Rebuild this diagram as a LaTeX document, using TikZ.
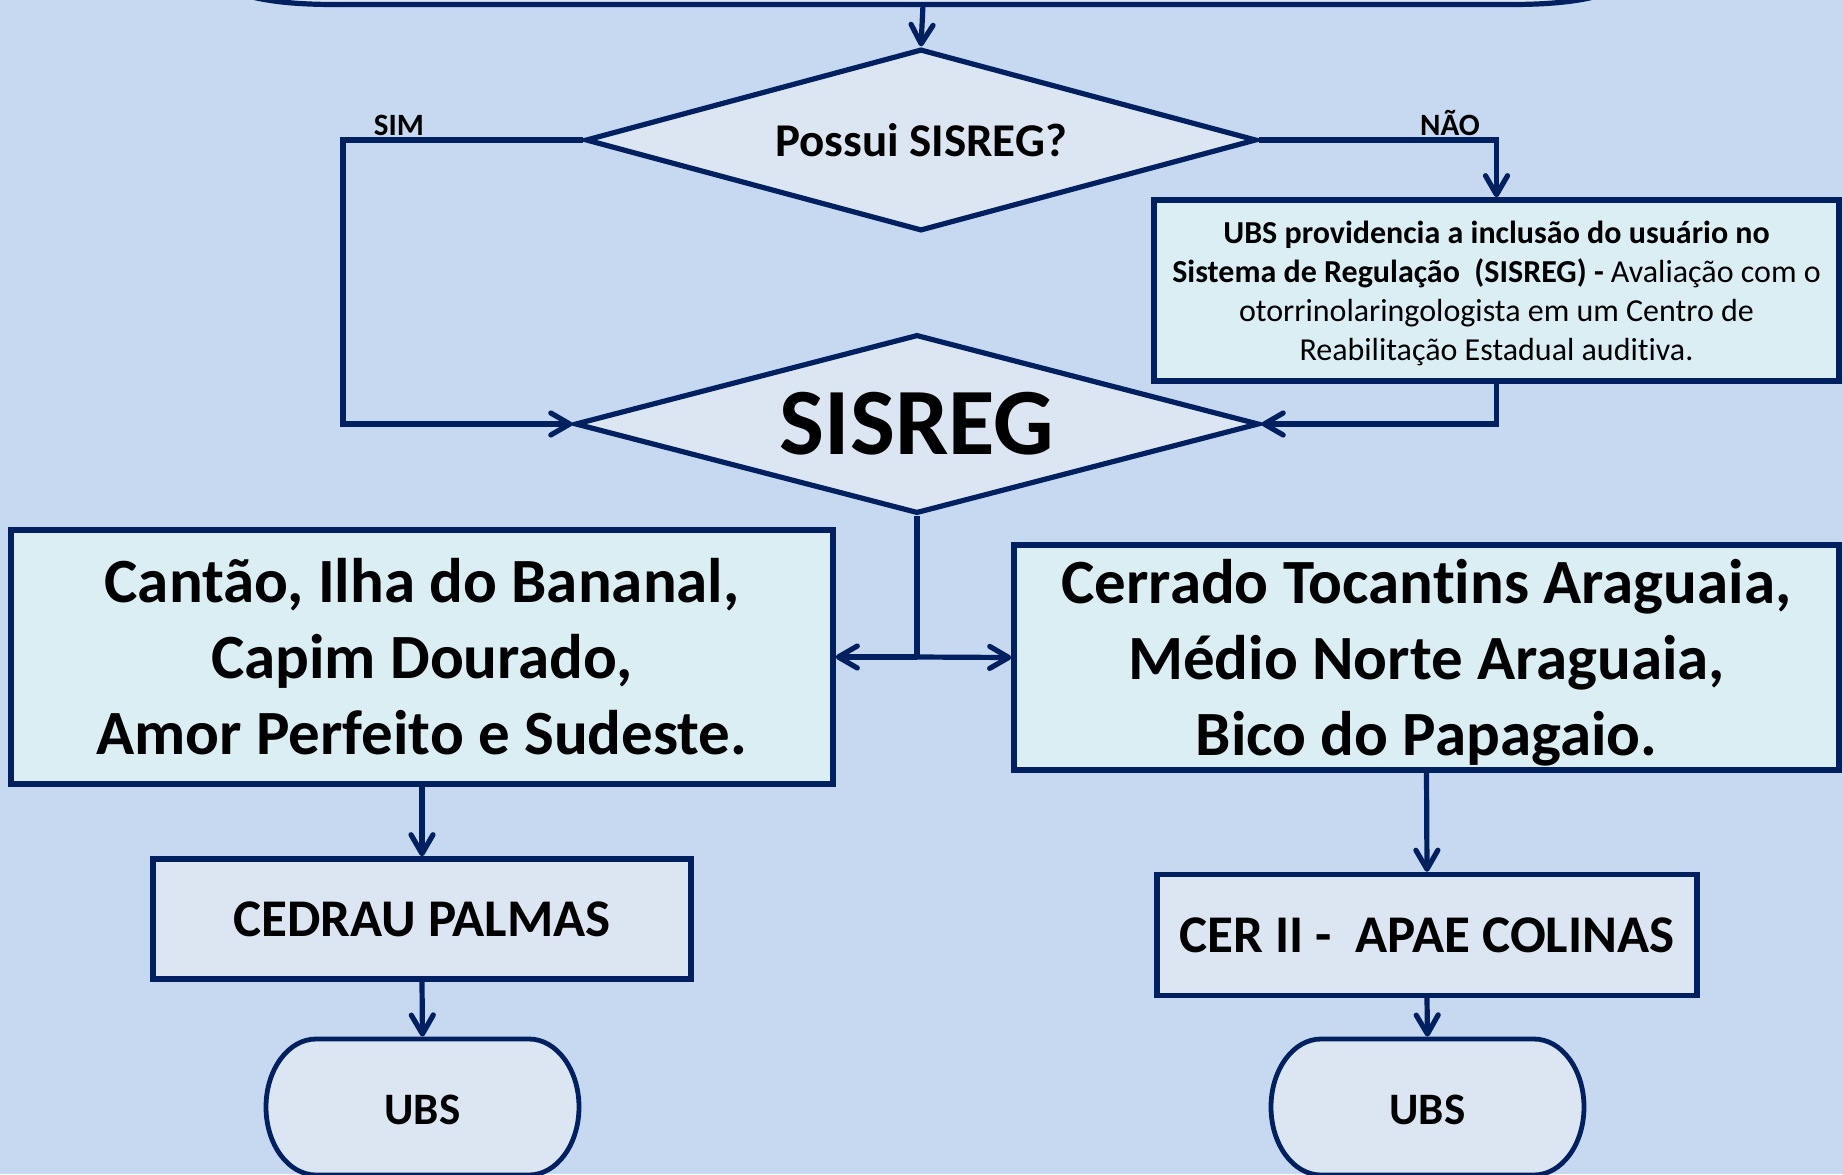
\documentclass[tikz,border=0pt]{standalone}
\usepackage{fontspec}
\setmainfont{Carlito}[Ligatures={NoCommon}]
\usetikzlibrary{shapes.geometric,arrows.meta,calc}
\definecolor{bg}{HTML}{C6D9F1}
\definecolor{navy}{HTML}{002060}
\definecolor{dfill}{HTML}{DCE6F2}
\definecolor{cfill}{HTML}{DBEEF4}
\pgfdeclarelayer{bgl}
\pgfsetlayers{bgl,main}
\begin{document}
\begin{tikzpicture}[x=0.5pt,y=-0.5pt,
  box/.style={draw=navy,line width=2.7pt,rectangle,inner sep=0pt,align=center,text=black},
  dia/.style={draw=navy,fill=dfill,line width=2.6pt,diamond,shape aspect=3.8,inner sep=0pt,text=black},
  conn/.style={draw=navy,line width=2.6pt,-{Straight Barb[length=9.5pt,width=11pt,round]}},
  plainline/.style={draw=navy,line width=2.6pt},
  term/.style={draw=navy,fill=dfill,line width=2.4pt},
  termnode/.style={inner sep=0pt,outer sep=0pt,minimum width=156.5pt,minimum height=68pt,font=\bfseries\fontsize{22.5}{27}\selectfont},
  lbl/.style={font=\bfseries\fontsize{15.5}{18}\selectfont,inner sep=0pt,anchor=base}
]
\begin{pgfonlayer}{bgl}
\fill[bg] (0,0) rectangle (1843,1174);
\end{pgfonlayer}
\useasboundingbox (0,0) rectangle (1843,1174);

% top (cut off) terminator
\node[inner sep=0pt,minimum width=685pt,minimum height=60pt] (top) at (923,-55.5) {};
\fill[dfill] (236,-8) .. controls (262,2) and (300,4.5) .. (335,4.5) -- (1511,4.5) .. controls (1546,4.5) and (1584,2) .. (1610,-8) -- cycle;
\draw[plainline] (236,-8) .. controls (262,2) and (300,4.5) .. (335,4.5) -- (1511,4.5) .. controls (1546,4.5) and (1584,2) .. (1610,-8);

% decisions
\node[dia,minimum width=335.5pt,minimum height=91pt,font=\bfseries\fontsize{23.5}{28}\selectfont] (d1) at (921,140) {Possui SISREG?};
\node[dia,minimum width=342pt,minimum height=89.5pt,font=\bfseries\fontsize{47.5}{56}\selectfont] (d2) at (917,424) {SISREG};

% boxes
\node[box,fill=cfill,minimum width=342.5pt,minimum height=90.5pt,font=\fontsize{16}{19.5}\selectfont] (reg) at (1496.5,290.5)
 {\textbf{UBS providencia a inclusão do usuário no}\\ \textbf{Sistema de Regulação\ \ (SISREG) -} Avaliação com o\\ otorrinolaringologista em um Centro de\\ \smash{Reabilitação Estadual auditiva.}};

\node[box,fill=cfill,minimum width=411pt,minimum height=127pt,font=\bfseries\fontsize{31.5}{38}\selectfont] (b1) at (422,657)
 {Cantão, Ilha do Bananal,\\ Capim Dourado,\\ Amor Perfeito e Sudeste.};
\node[box,fill=cfill,minimum width=412.5pt,minimum height=112.5pt,font=\bfseries\fontsize{31.5}{38}\selectfont] (b2) at (1426.5,657.5)
 {Cerrado Tocantins Araguaia,\\ Médio Norte Araguaia,\\ \smash{Bico do Papagaio.}};

\node[box,fill=dfill,minimum width=269pt,minimum height=60pt,font=\bfseries\fontsize{26.5}{32}\selectfont] (ced) at (422,919) {CEDRAU PALMAS};
\node[box,fill=dfill,minimum width=270pt,minimum height=60.5pt,font=\bfseries\fontsize{26.5}{32}\selectfont] (cer) at (1427,935) {CER II -\ \ APAE COLINAS};

% terminators
\node[termnode] (u1) at (422.5,1107) {\raisebox{-1.5pt}[\height][\depth]{UBS}};
\node[termnode] (u2) at (1427.5,1107) {\raisebox{-1.5pt}[\height][\depth]{UBS}};
\begin{pgfonlayer}{bgl}
\foreach \u in {u1,u2}{
\draw[term] ([xshift=25pt]\u.north west) -- ([xshift=-25pt]\u.north east)
  arc[start angle=90,end angle=-90,x radius=25pt,y radius=34pt]
  -- ([xshift=25pt]\u.south west)
  arc[start angle=270,end angle=90,x radius=25pt,y radius=34pt] -- cycle;
}
\end{pgfonlayer}

% labels
\node[lbl] (sim) at (399,135) {SIM};
\node[lbl] (nao) at (1450,135) {NÃO};

% connectors
\coordinate (simcorner) at (343,140);
\coordinate (split) at (d2.south |- b1.east);
\draw[conn] (top.south) -- (d1.north);
\draw[conn] (d1.west) -- (simcorner) |- (d2.west);
\draw[conn] (d1.east) -| (reg.north);
\draw[conn] (reg.south) |- (d2.east);
\draw[plainline] (d2.south) -- (split);
\draw[conn] (split) -- (b1.east);
\draw[conn] (split) -- (b2.west);
\draw[conn] (b1.south) -- (ced.north);
\draw[conn,shorten >=1.2pt] (ced.south) -- (u1.north);
\draw[conn] (b2.south) -- (cer.north);
\draw[conn,shorten >=1.2pt] (cer.south) -- (u2.north);
\end{tikzpicture}
\end{document}
